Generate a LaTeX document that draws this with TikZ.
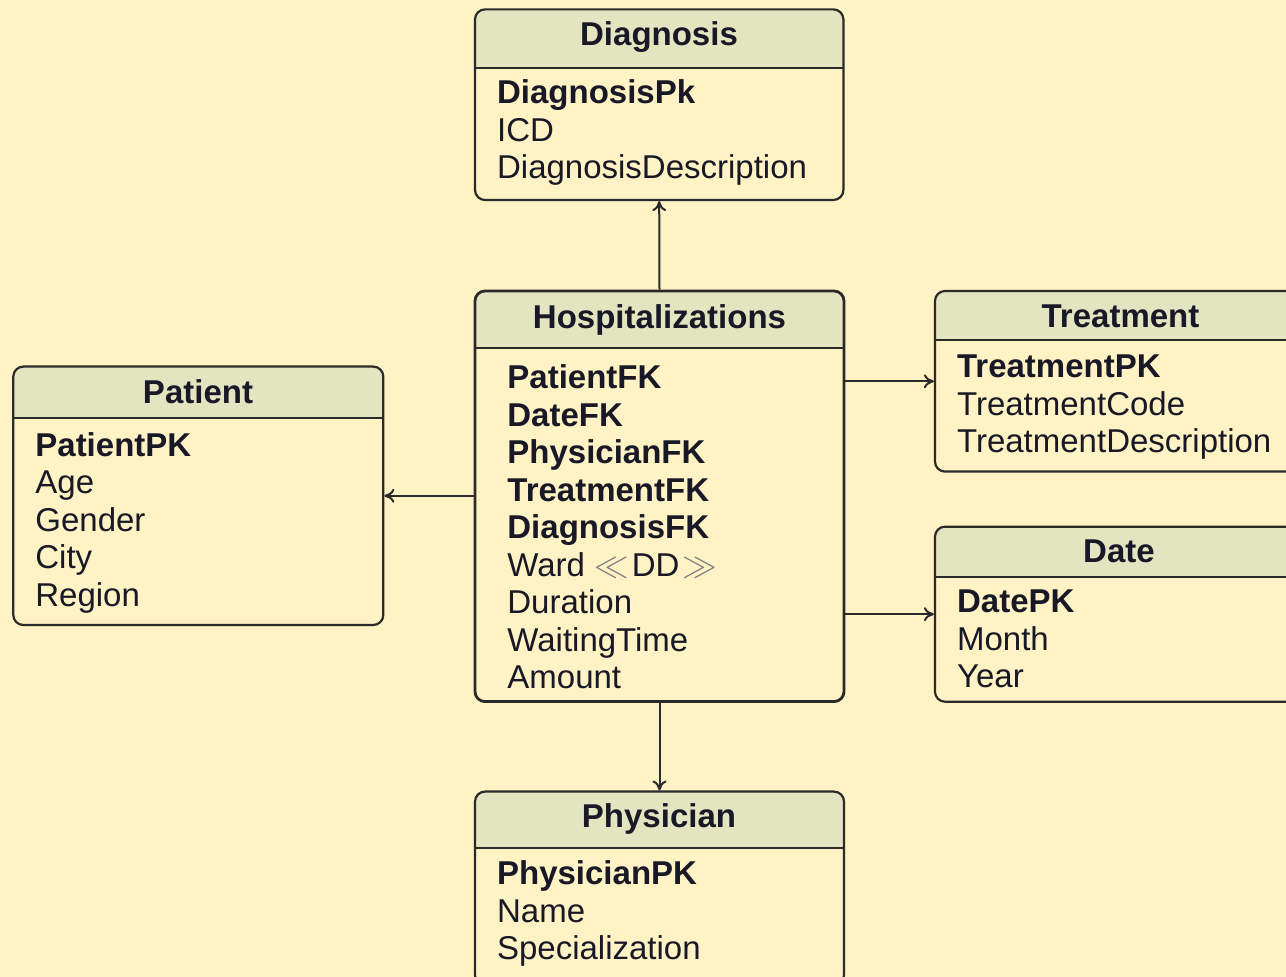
\documentclass[tikz,border=0pt]{standalone}
\usepackage{fontspec}
\setmainfont{Liberation Sans}
\usetikzlibrary{arrows.meta, positioning, calc}
\definecolor{PaperYellow}{RGB}{255,242,196}
\definecolor{HeadGreen}{RGB}{227,229,193}
\definecolor{EdgeGray}{RGB}{42,42,42}
\definecolor{InkBlue}{RGB}{24,24,38}
\newcommand{\fieldsize}{\fontsize{16.5}{18.75}\selectfont}
\newcommand{\guil}[1]{\textcolor{gray}{$#1$}}

\tikzset{
  entity/.style={draw=EdgeGray, line width=1.1pt, rounded corners=5pt, fill=PaperYellow, inner sep=0pt,
    path picture={
      \fill[HeadGreen, sharp corners] (path picture bounding box.north west) rectangle ([yshift=-#1]path picture bounding box.north east);
      \draw[EdgeGray, line width=1.1pt, sharp corners] ([yshift=-#1]path picture bounding box.north west) -- ([yshift=-#1]path picture bounding box.north east);
    }},
  entitle/.style={font=\fieldsize\bfseries, text=InkBlue, inner sep=0pt, anchor=base},
  fields/.style={font=\fieldsize, text=InkBlue, inner sep=0pt, anchor=base west},
  link/.style={draw=EdgeGray, line width=1pt, -{To[length=5pt,width=7pt]}}
}

\begin{document}
\begin{tikzpicture}[x=0.5pt, y=-0.5pt]
  \fill[PaperYellow] (0,0) rectangle (1286,977);
  \useasboundingbox (0,0) rectangle (1286,977);

  % fact table
  \node[entity=28.7pt, line width=1.4pt, minimum width=184.5pt, minimum height=205.3pt] (hosp) at (659.5,496.3) {};
  \node[entitle] (hospT) at (659.5,329) {Hospitalizations};
  \node[fields] (hospF) at (507,389) {\begin{tabular}[t]{@{}l@{}}
    \textbf{PatientFK}\\ \textbf{DateFK}\\ \textbf{PhysicianFK}\\ \textbf{TreatmentFK}\\ \textbf{DiagnosisFK}\\
    Ward \guil{\ll}\kern1.5pt DD\kern1.5pt\guil{\gg}\\ Duration\\ WaitingTime\\ Amount\end{tabular}};

  % dimensions
  \node[entity=29.5pt, minimum width=184.2pt, minimum height=95.3pt] (diag) at (659.2,104.7) {};
  \node[entitle] (diagT) at (659,46) {Diagnosis};
  \node[fields] (diagF) at (496.7,104) {\begin{tabular}[t]{@{}l@{}}
    \textbf{DiagnosisPk}\\ ICD\\ DiagnosisDescription\end{tabular}};

  \node[entity=24.5pt, minimum width=185.5pt, minimum height=90.3pt] (treat) at (1120.5,381.3) {};
  \node[entitle] (treatT) at (1120.5,327.5) {Treatment};
  \node[fields] (treatF) at (956.7,378) {\begin{tabular}[t]{@{}l@{}}
    \textbf{TreatmentPK}\\ TreatmentCode\\ TreatmentDescription\end{tabular}};

  \node[entity=25.8pt, minimum width=185pt, minimum height=129.2pt] (pat) at (198.3,495.8) {};
  \node[entitle] (patT) at (198,404) {Patient};
  \node[fields] (patF) at (35,456.5) {\begin{tabular}[t]{@{}l@{}}
    \textbf{PatientPK}\\ Age\\ Gender\\ City\\ Region\end{tabular}};

  \node[entity=25pt, minimum width=185pt, minimum height=87.5pt] (date) at (1120,614.2) {};
  \node[entitle] (dateT) at (1119,562.5) {Date};
  \node[fields] (dateF) at (956.7,613) {\begin{tabular}[t]{@{}l@{}}
    \textbf{DatePK}\\ Month\\ Year\end{tabular}};

  \node[entity=28.3pt, minimum width=184.5pt, minimum height=96.7pt] (phys) at (659.5,888.3) {};
  \node[entitle] (physT) at (659,828) {Physician};
  \node[fields] (physF) at (496.7,885) {\begin{tabular}[t]{@{}l@{}}
    \textbf{PhysicianPK}\\ Name\\ Specialization\end{tabular}};

  % links
  \draw[link] (hosp.north) -- (diag.south);
  \draw[link] (hosp.west |- pat.east) -- (pat.east);
  \draw[link] (hosp.east |- treat.west) -- (treat.west);
  \draw[link] (hosp.east |- date.west) -- (date.west);
  \draw[link] (hosp.south) -- (phys.north);
\end{tikzpicture}
\end{document}
